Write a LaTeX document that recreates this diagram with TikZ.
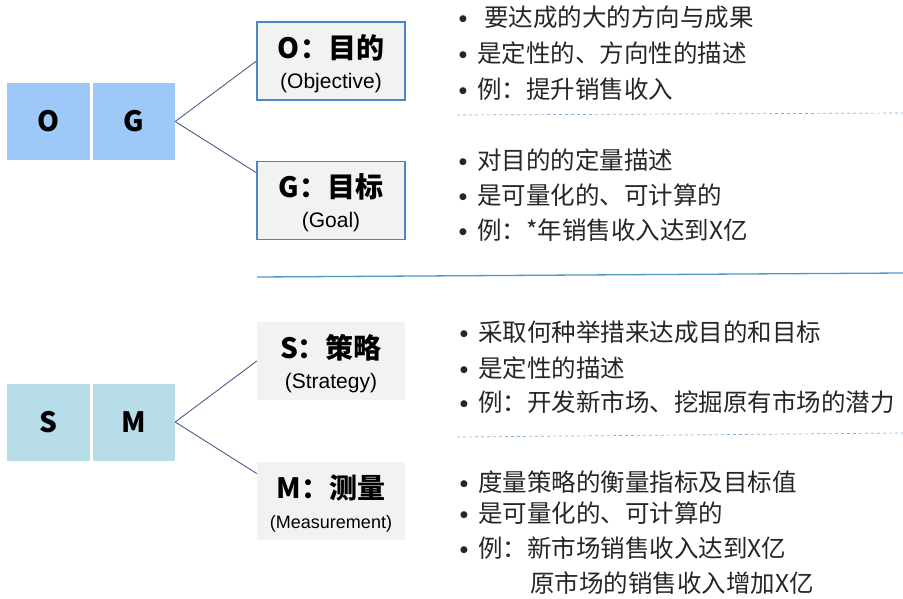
\documentclass[tikz,border=0pt]{standalone}
\usepackage{fontspec}
\setmainfont{Liberation Sans}
\setsansfont{Liberation Sans}
\newfontfamily\cjk{Noto Sans CJK SC}
\newfontfamily\dejavu{DejaVu Sans}
\usetikzlibrary{calc}
\definecolor{ogblue}{HTML}{9DC8F7}
\definecolor{smteal}{HTML}{B7DEE8}
\definecolor{boxgray}{HTML}{F2F2F2}
\definecolor{boxline}{HTML}{4A86C8}
\definecolor{linkline}{HTML}{4E5A8C}
\definecolor{sepline}{HTML}{4F97C8}
\definecolor{dashline}{HTML}{7FB0DC}
\newcommand{\itm}[1]{\makebox[18pt][l]{\raisebox{5pt}{\dejavu\fontsize{9}{9}\selectfont ●}}#1}
\newcommand{\ttl}[1]{{\cjk\bfseries\fontsize{28}{30}\selectfont\rule{0pt}{29pt}#1}}
\tikzset{
  letter/.style={fill=#1, minimum width=82pt, minimum height=77pt, inner sep=0pt,
    font=\cjk\bfseries\fontsize{28}{28}\selectfont},
  titlebox/.style={fill=boxgray, minimum width=148pt, minimum height=78pt, inner sep=0pt,
    align=center, font=\fontsize{21}{30}\selectfont},
  framed/.style={draw=boxline, line width=1.2pt},
  item/.style={anchor=west, inner sep=0pt, text=black!85,
    font=\cjk\fontsize{24.5}{28}\selectfont},
  link/.style={linkline, line width=0.9pt},
}

\begin{document}
\begin{tikzpicture}[x=1pt, y=-1pt]
\useasboundingbox (0,0) rectangle (903,598);

% OG
\node[letter=ogblue, minimum width=83pt] (og-o) at (48.5,121.5) {O};
\node[letter=ogblue] (og-g) at (134,121.5) {G};
\node[titlebox, framed] (obj) at (331,61) {\ttl{O：目的}\\(Objective)};
\node[titlebox, framed] (goal) at (331,200.5) {\ttl{G：目标}\\(Goal)};
\draw[link] (og-g.east) -- (obj.west);
\draw[link] (og-g.east) -- ($(goal.north west)!0.15!(goal.south west)$);

\node[item] (obj-1) at (459,17) {\itm{\hspace{7pt}要达成的大的方向与成果}};
\node[item] (obj-2) at (459,53) {\itm{是定性的、方向性的描述}};
\node[item] (obj-3) at (459,89) {\itm{例：提升销售收入}};
\node[item] (goal-1) at (459,160) {\itm{对目的的定量描述}};
\node[item] (goal-2) at (459,195) {\itm{是可量化的、可计算的}};
\node[item] (goal-3) at (459,230) {\itm{例：*年销售收入达到X亿}};

% separators
\coordinate (dash-a1) at (457,115);
\coordinate (dash-a2) at (903,113);
\draw[dashline, dashed, line width=0.7pt] (dash-a1) -- (dash-a2);
\coordinate (sep-l) at (257,277);
\coordinate (sep-r) at (903,273);
\draw[sepline, line width=1.3pt] (sep-l) -- (sep-r);

% SM
\node[letter=smteal, minimum width=83pt] (sm-s) at (48.5,422) {S};
\node[letter=smteal] (sm-m) at (134,422) {M};
\node[titlebox] (strat) at (331,361) {\ttl{S：策略}\\(Strategy)};
\node[titlebox] (meas) at (331,501) {\ttl{M：测量}\\{\fontsize{18}{30}\selectfont (Measurement)}};
\draw[link] (sm-m.east) -- (strat.west);
\draw[link] (sm-m.east) -- ($(meas.north west)!0.15!(meas.south west)$);

\node[item] (strat-1) at (460,332) {\itm{采取何种举措来达成目的和目标}};
\node[item] (strat-2) at (460,368) {\itm{是定性的描述}};
\node[item] (strat-3) at (460,402) {\itm{例：开发新市场、挖掘原有市场的潜力}};
\node[item] (meas-1) at (460,482) {\itm{度量策略的衡量指标及目标值}};
\node[item] (meas-2) at (460,513) {\itm{是可量化的、可计算的}};
\node[item] (meas-3) at (460,548) {\itm{例：新市场销售收入达到X亿}};
\node[item] (meas-4) at (530,583) {原市场的销售收入增加X亿};

\coordinate (dash-b1) at (457,437);
\coordinate (dash-b2) at (903,433);
\draw[dashline, dashed, line width=0.7pt] (dash-b1) -- (dash-b2);
\end{tikzpicture}
\end{document}
